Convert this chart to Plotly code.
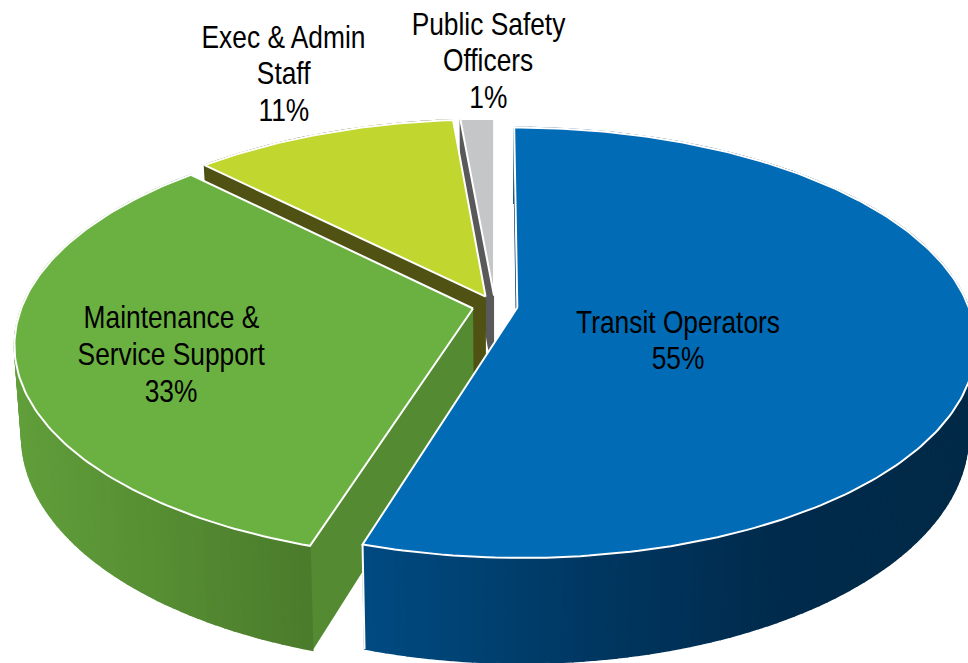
import numpy as np
import plotly.graph_objects as go

# --- data ---
categories = ["Transit Operators", "Maintenance & Service Support", "Exec & Admin Staff", "Public Safety Officers"]
values = [54.8, 32.8, 11.0, 1.4]
label_lines = [["Transit Operators"], ["Maintenance &", "Service Support"], ["Exec & Admin", "Staff"], ["Public Safety", "Officers"]]

# --- styles ---
top_colors = ["#026BB5", "#6BB141", "#C1D72F", "#C5C6C8"]
side_colors = ["#00305A", "#548A32", "#4F5213", "#595959"]
wall_ramps = [
    [(365, "#004B82"), (560, "#003A66"), (780, "#002B4C"), (968, "#002A47")],
    [(15, "#619F3B"), (315, "#4B7B2B")],
    [(0, "#4F5213"), (968, "#4F5213")],
    [(0, "#595959"), (968, "#595959")],
]
label_pos = [(678, 322), (171, 317.5), (283.5, 37), (488, 24)]
LINE_STEP = 36.8
FONT = "Liberation Sans, Arial, sans-serif"
FONT_SIZE = 31
TEXT_SQUEEZE = 0.85

# --- projection of the tilted disc into pixel space ---
CX, CY = 495, 306
A, B = 451, 209
K = 0.163
H = 88
SHRINK = 0.015
EXPLODE = 0.05


def proj(u, v, z=0):
    w = 1 + K * v
    return CX + A * u * (1 - SHRINK * z) / w, CY - (B * v - H * z) / w


def hex2rgb(h):
    return np.array([int(h[i:i + 2], 16) for i in (1, 3, 5)], float)


def ramp_color(ramp, x):
    xs = [p[0] for p in ramp]
    cs = np.array([hex2rgb(p[1]) for p in ramp])
    rgb = [np.interp(x, xs, cs[:, i]) for i in range(3)]
    return "rgb(%d,%d,%d)" % tuple(rgb)


def poly(fig, xs, ys, fill, line=None, width=0):
    fig.add_trace(go.Scatter(
        x=list(xs), y=list(ys), mode="lines", fill="toself", fillcolor=fill,
        line=dict(color=line or fill, width=width), hoverinfo="skip", showlegend=False))


fig = go.Figure()
total = sum(values)
edges = np.concatenate([[0], np.cumsum(values)]) / total * 2 * np.pi

# painter's order: back slices first
for i in [3, 2, 1, 0]:
    t0, t1 = edges[i], edges[i + 1]
    m = (t0 + t1) / 2
    ou, ov = EXPLODE * np.sin(m), EXPLODE * np.cos(m)

    # radial end walls
    for t in (t0, t1):
        xa, ya = proj(ou, ov)
        xb, yb = proj(ou + np.sin(t), ov + np.cos(t))
        xc, yc = proj(ou + np.sin(t), ov + np.cos(t), 1)
        xd, yd = proj(ou, ov, 1)
        poly(fig, [xa, xb, xc, xd, xa], [ya, yb, yc, yd, ya], side_colors[i])

    # outer wall as narrow strips carrying the horizontal gradient
    n = max(4, int(values[i] * 3))
    th = np.linspace(t0, t1, n + 1)
    for a, b in zip(th[:-1], th[1:]):
        x1, y1 = proj(ou + np.sin(a), ov + np.cos(a))
        x2, y2 = proj(ou + np.sin(b), ov + np.cos(b))
        x3, y3 = proj(ou + np.sin(b), ov + np.cos(b), 1)
        x4, y4 = proj(ou + np.sin(a), ov + np.cos(a), 1)
        poly(fig, [x1, x2, x3, x4, x1], [y1, y2, y3, y4, y1],
             ramp_color(wall_ramps[i], (x1 + x2) / 2), None, 1.5)

    # white vertical edge where the outer wall ends
    xb, yb = proj(ou + np.sin(t1), ov + np.cos(t1))
    xc, yc = proj(ou + np.sin(t1), ov + np.cos(t1), 1)
    fig.add_trace(go.Scatter(x=[xb, xc], y=[yb, yc], mode="lines",
                             line=dict(color="white", width=2), hoverinfo="skip", showlegend=False))

    # top face
    arc = np.linspace(t0, t1, max(12, int(values[i] * 4)))
    xr, yr = proj(ou + np.sin(arc), ov + np.cos(arc))
    xa, ya = proj(ou, ov)
    poly(fig, np.r_[xa, xr, xa], np.r_[ya, yr, ya], top_colors[i], "white", 2)

# labels, one annotation per line so the line spacing is exact
for i, (lines, pos) in enumerate(zip(label_lines, label_pos)):
    for j, txt in enumerate(lines + ["%.0f%%" % values[i]]):
        fig.add_annotation(x=pos[0], y=pos[1] + j * LINE_STEP, xref="x", yref="y", showarrow=False,
                           text=txt, align="center",
                           font=dict(family=FONT, size=FONT_SIZE, color="black"))

fig.update_layout(
    width=968, height=663, margin=dict(l=0, r=0, t=0, b=0),
    paper_bgcolor="white", plot_bgcolor="white", showlegend=False,
    xaxis=dict(range=[0, 968], visible=False, fixedrange=True),
    yaxis=dict(range=[663, 0], visible=False, fixedrange=True),
)
squeeze_js = """
document.body.style.margin='0';document.body.style.overflow='hidden';
document.querySelectorAll('.annotation-text').forEach(function(t){
  t.style.transformBox='fill-box';t.style.transformOrigin='center';t.style.transform='scaleX(%s)';
});
""" % TEXT_SQUEEZE
fig.write_html("out.html", config={"displayModeBar": False}, post_script=squeeze_js)
